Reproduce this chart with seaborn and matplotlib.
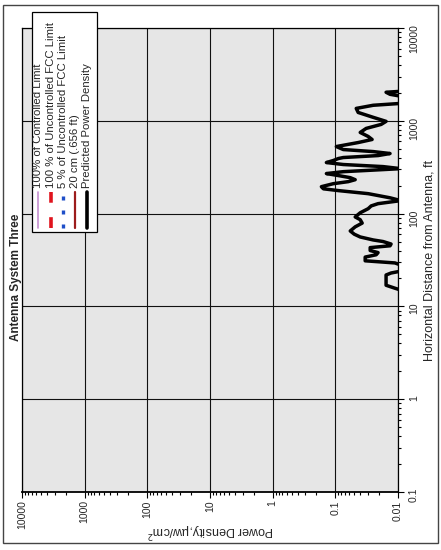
import matplotlib
matplotlib.use("Agg")
import matplotlib.pyplot as plt
import seaborn as sns
from matplotlib.lines import Line2D
from matplotlib.patches import Rectangle
from matplotlib.ticker import FixedLocator, FixedFormatter, LogLocator, NullFormatter

# predicted power density vs horizontal distance
distance_ft = [2080, 2030, 1930, 1840, 1540, 1470, 1360, 1230, 1090, 986, 914, 828,
               749, 678, 629, 583, 528, 490, 466, 444, 422, 402, 392, 373, 355, 338,
               321, 305, 298, 283, 270, 257, 244, 232, 221, 210, 195, 185, 177, 164,
               148, 138, 128, 121, 113, 102, 92, 86, 79, 72, 65, 60, 56, 52, 50, 47,
               45, 43, 40, 38, 36, 34, 31, 29.4, 27.9, 24.0, 22.9, 21.8, 19.7, 16.9,
               15.7, 15.0]
power_uw_cm2 = [0.009, 0.0155, 0.0134, 0.009, 0.009, 0.0249, 0.0464, 0.0432, 0.0249,
                0.0155, 0.0186, 0.0322, 0.0401, 0.0299, 0.0259, 0.0432, 0.0964, 0.0747,
                0.0249, 0.0134, 0.0208, 0.0747, 0.0896, 0.108, 0.139, 0.0747, 0.0173,
                0.009, 0.0173, 0.0747, 0.139, 0.0896, 0.0578, 0.0482, 0.0622, 0.108,
                0.167, 0.155, 0.0896, 0.0299, 0.0134, 0.009, 0.0208, 0.0268, 0.0299,
                0.0401, 0.0482, 0.0401, 0.0373, 0.0482, 0.0578, 0.0499, 0.0401, 0.0249,
                0.0173, 0.0129, 0.0134, 0.0278, 0.0278, 0.0208, 0.0223, 0.0334, 0.0334,
                0.0112, 0.009, 0.009, 0.0129, 0.0155, 0.0155, 0.0155, 0.0112, 0.009]

power_ticks = [10000, 1000, 100, 10, 1, 0.1, 0.01]
power_labels = ["10000", "1000", "100", "10", "1", "0.1", "0.01"]
dist_ticks = [0.1, 1, 10, 100, 1000, 10000]
dist_labels = ["0.1", "1", "10", "100", "1000", "10000"]

legend_labels = ["100% of Controlled Limit", "100 % of Uncontrolled FCC Limit",
                 "5 % of Uncontrolled FCC Limit", "20 cm (.656 ft)",
                 "Predicted Power Density"]
legend_colors = ["#c58fd0", "#e0141e", "#1f4fc8", "#9c1c1c", "black"]
legend_styles = ["-", (0, (3, 4)), (0, (1.2, 3)), "-", "-"]
legend_widths = [1.2, 2.6, 2.4, 1.6, 2.6]

sns.set_style("ticks")
plt.rcParams["font.family"] = ["Liberation Sans", "DejaVu Sans"]

W, H = 441, 550
fig = plt.figure(figsize=(W / 100, H / 100), dpi=100, facecolor="white")


def fx(px):
    return px / W


def fy(py):
    return 1 - py / H


# chart is printed sideways: distance runs up the right, power density runs right-to-left
ax = fig.add_axes([fx(22), fy(492), fx(398) - fx(22), fy(28) - fy(492)])
ax.set_facecolor("#e6e6e6")
ax.set_xscale("log")
ax.set_yscale("log")

sns.lineplot(x=power_uw_cm2, y=distance_ft, sort=False, estimator=None,
             color="black", linewidth=2.5, ax=ax)

ax.set_xlim(10000, 0.01)
ax.set_ylim(0.1, 10000)

ax.xaxis.set_major_locator(FixedLocator(power_ticks))
ax.xaxis.set_major_formatter(FixedFormatter(power_labels))
ax.yaxis.set_major_locator(FixedLocator(dist_ticks))
ax.yaxis.set_major_formatter(FixedFormatter(dist_labels))
for axis in (ax.xaxis, ax.yaxis):
    axis.set_minor_locator(LogLocator(base=10, subs=range(2, 10), numticks=20))
    axis.set_minor_formatter(NullFormatter())

ax.yaxis.tick_right()
ax.yaxis.set_label_position("right")
ax.tick_params(which="both", direction="out", color="black", width=0.8)
ax.tick_params(which="major", length=4, labelsize=7.5, pad=2)
ax.tick_params(which="minor", length=2.2)
ax.tick_params(axis="x", labelrotation=90)
ax.tick_params(axis="y", labelrotation=90, pad=4)
ax.grid(which="major", color="#111111", linewidth=0.8)
for s in ax.spines.values():
    s.set_color("black")
    s.set_linewidth(0.9)
ax.spines["bottom"].set_linewidth(1.3)

ax.set_xlabel("Power Density,\u00b5w/cm$^2$", fontsize=9, rotation=180)
ax.xaxis.set_label_coords(0.5, -0.082)
ax.xaxis.label.set_va("center")
ax.set_ylabel("Horizontal Distance from Antenna, ft", fontsize=9, rotation=90)
ax.yaxis.set_label_coords((429 - 22) / 376, 0.5)
ax.yaxis.label.set_va("center")

# title sits on the left edge, sideways
fig.text(fx(16), fy(277), "Antenna System Three", rotation=90, ha="center",
         va="center", fontsize=8.5, fontweight="bold")

# sideways legend box
fig.add_artist(Rectangle((fx(32), fy(232)), fx(97) - fx(32), fy(12) - fy(232),
                         transform=fig.transFigure, facecolor="white",
                         edgecolor="black", linewidth=0.9, zorder=5))
entry_x = [38, 50.7, 63.3, 75, 86.7]
for xp, lab, c, ls, lw in zip(entry_x, legend_labels, legend_colors,
                              legend_styles, legend_widths):
    fig.add_artist(Line2D([fx(xp), fx(xp)], [fy(228), fy(192)],
                          transform=fig.transFigure, color=c, linestyle=ls,
                          linewidth=lw, zorder=6))
    fig.text(fx(xp), fy(188), lab, rotation=90, ha="center", va="bottom",
             fontsize=8.2, zorder=6)

# outer frame of the scanned page
fig.add_artist(Rectangle((fx(3), fy(543)), fx(438) - fx(3), fy(5) - fy(543),
                         transform=fig.transFigure, fill=False,
                         edgecolor="#444444", linewidth=1.0, zorder=4))

fig.savefig("out.png", dpi=100)
